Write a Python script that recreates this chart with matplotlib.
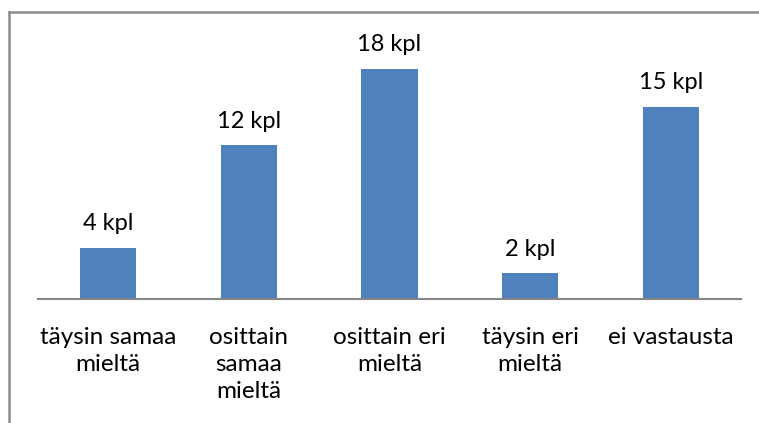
import matplotlib
matplotlib.use("Agg")
import matplotlib.pyplot as plt
from matplotlib.lines import Line2D

categories = ["täysin samaa\nmieltä", "osittain\nsamaa\nmieltä", "osittain eri\nmieltä",
              "täysin eri\nmieltä", "ei vastausta"]
values = [4, 12, 18, 2, 15]
value_labels = ["4 kpl", "12 kpl", "18 kpl", "2 kpl", "15 kpl"]

W, H = 759, 423
fig = plt.figure(figsize=(W / 100, H / 100), dpi=100)
fig.patch.set_facecolor("white")

# axes: x from 38 to 741 px, y from 43 to 299 px (top-down)
ax = fig.add_axes([38 / W, 1 - 299 / H, (741 - 38) / W, (299 - 43) / H])
x = range(len(values))
ax.bar(x, values, width=0.4, color="#4F81BD")
ax.set_xlim(-0.5, len(values) - 0.5)
ax.set_ylim(0, 20)
for s in ["top", "right", "left"]:
    ax.spines[s].set_visible(False)
ax.spines["bottom"].set_color("#868686")
ax.spines["bottom"].set_linewidth(1.5)
ax.set_yticks([])
ax.set_xticks(list(x))
ax.set_xticklabels(categories, fontfamily="Lato", fontsize=17.5, linespacing=1.37)
ax.tick_params(axis="x", length=0, pad=20)
for xi, v, lab in zip(x, values, value_labels):
    ax.annotate(lab, (xi, v), xytext=(0, 10), textcoords="offset points",
                ha="center", va="bottom", fontfamily="Lato", fontsize=17)

# outer chart border (left and top visible)
fig.add_artist(Line2D([8.5 / W, 8.5 / W], [0, 1 - 12 / H], transform=fig.transFigure,
                      color="#8c8c8c", lw=1.8))
fig.add_artist(Line2D([8.5 / W, 1], [1 - 12 / H, 1 - 12 / H], transform=fig.transFigure,
                      color="#8c8c8c", lw=1.8))

fig.savefig("out.png", dpi=100, facecolor="white")
